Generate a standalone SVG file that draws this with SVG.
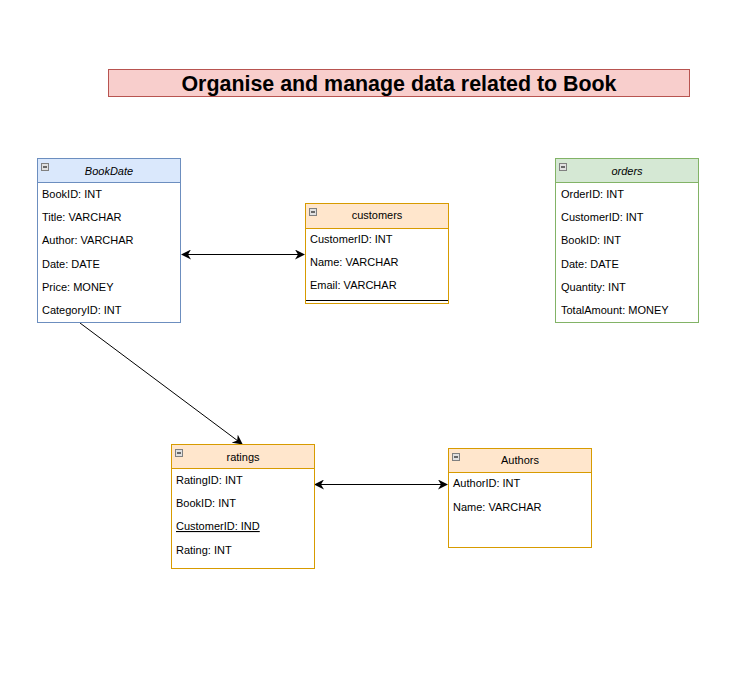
<svg xmlns="http://www.w3.org/2000/svg" width="737" height="678" viewBox="0 0 737 678">
<defs>
<style>
text{font-family:"Liberation Sans",Arial,sans-serif;font-size:11px;fill:#000}
.t{font-size:21.4px;font-weight:bold;text-anchor:middle}
.h{text-anchor:middle}
.i{font-style:italic}
.b{fill:#fff}
.blue{fill:#dae8fc;stroke:#6c8ebf}
.green{fill:#d5e8d4;stroke:#82b366}
.orange{fill:#ffe6cc;stroke:#d79b00}
.sb{fill:none;stroke:#6c8ebf}
.sg{fill:none;stroke:#82b366}
.so{fill:none;stroke:#d79b00}
.ic{fill:#e0e0e0;stroke:#808080;stroke-width:1}
.icl{stroke:#404040;stroke-width:1.5}
.c{stroke:#000;stroke-width:1;fill:none}
</style>
<marker id="ae" viewBox="0 0 10 10" refX="9" refY="5" markerWidth="10" markerHeight="10" markerUnits="userSpaceOnUse" orient="auto">
<path d="M0,0 L10,5 L0,10 L3,5 Z" fill="#000"/>
</marker>
<marker id="as" viewBox="0 0 10 10" refX="1" refY="5" markerWidth="10" markerHeight="10" markerUnits="userSpaceOnUse" orient="auto">
<path d="M10,0 L0,5 L10,10 L7,5 Z" fill="#000"/>
</marker>
</defs>
<rect width="737" height="678" fill="#fff"/>
<g id="title">
<rect x="108.5" y="69.5" width="581" height="27" fill="#f8cecc" stroke="#b85450"/>
<text class="t" x="399" y="90.5">Organise and manage data related to Book</text>
</g>
<g id="connectors">
<line class="c" x1="182" y1="254.5" x2="304" y2="254.5" marker-start="url(#as)" marker-end="url(#ae)"/>
<line class="c" x1="315" y1="484.5" x2="447" y2="484.5" marker-start="url(#as)" marker-end="url(#ae)"/>
<line class="c" x1="80" y1="323" x2="242" y2="444" marker-end="url(#ae)"/>
</g>
<g id="BookDate">
<rect class="b" x="37.5" y="158.5" width="143" height="164"/>
<rect class="blue" x="37.5" y="158.5" width="143" height="24"/>
<rect class="sb" x="37.5" y="158.5" width="143" height="164"/>
<rect class="ic" x="41.5" y="163.5" width="7" height="7"/>
<line class="icl" x1="43" y1="167" x2="47" y2="167"/>
<text class="h i" x="109" y="175">BookDate</text>
<text x="42" y="198">BookID: INT</text>
<text x="42" y="221">Title: VARCHAR</text>
<text x="42" y="244">Author: VARCHAR</text>
<text x="42" y="268">Date: DATE</text>
<text x="42" y="291">Price: MONEY</text>
<text x="42" y="314">CategoryID: INT</text>
</g>
<g id="customers">
<rect class="b" x="305.5" y="203.5" width="143" height="100"/>
<rect class="orange" x="305.5" y="203.5" width="143" height="25"/>
<rect class="so" x="305.5" y="203.5" width="143" height="100"/>
<rect class="ic" x="309.5" y="208.5" width="7" height="7"/>
<line class="icl" x1="311" y1="212" x2="315" y2="212"/>
<text class="h" x="377" y="219">customers</text>
<text x="310" y="243">CustomerID: INT</text>
<text x="310" y="266">Name: VARCHAR</text>
<text x="310" y="289">Email: VARCHAR</text>
<line x1="306" y1="300.5" x2="448" y2="300.5" stroke="#000" stroke-width="1"/>
</g>
<g id="orders">
<rect class="b" x="555.5" y="158.5" width="143" height="164"/>
<rect class="green" x="555.5" y="158.5" width="143" height="24"/>
<rect class="sg" x="555.5" y="158.5" width="143" height="164"/>
<rect class="ic" x="559.5" y="163.5" width="7" height="7"/>
<line class="icl" x1="561" y1="167" x2="565" y2="167"/>
<text class="h i" x="627" y="175">orders</text>
<text x="561" y="198">OrderID: INT</text>
<text x="561" y="221">CustomerID: INT</text>
<text x="561" y="244">BookID: INT</text>
<text x="561" y="268">Date: DATE</text>
<text x="561" y="291">Quantity: INT</text>
<text x="561" y="314">TotalAmount: MONEY</text>
</g>
<g id="ratings">
<rect class="b" x="171.5" y="444.5" width="143" height="124"/>
<rect class="orange" x="171.5" y="444.5" width="143" height="24"/>
<rect class="so" x="171.5" y="444.5" width="143" height="124"/>
<rect class="ic" x="175.5" y="449.5" width="7" height="7"/>
<line class="icl" x1="177" y1="453" x2="181" y2="453"/>
<text class="h" x="243" y="461">ratings</text>
<text x="176" y="484">RatingID: INT</text>
<text x="176" y="507">BookID: INT</text>
<text x="176" y="530" text-decoration="underline">CustomerID: IND</text>
<text x="176" y="554">Rating: INT</text>
</g>
<g id="Authors">
<rect class="b" x="448.5" y="448.5" width="143" height="99"/>
<rect class="orange" x="448.5" y="448.5" width="143" height="24"/>
<rect class="so" x="448.5" y="448.5" width="143" height="99"/>
<rect class="ic" x="452.5" y="453.5" width="7" height="7"/>
<line class="icl" x1="454" y1="457" x2="458" y2="457"/>
<text class="h" x="520" y="464">Authors</text>
<text x="453" y="487">AuthorID: INT</text>
<text x="453" y="511">Name: VARCHAR</text>
</g>
</svg>
